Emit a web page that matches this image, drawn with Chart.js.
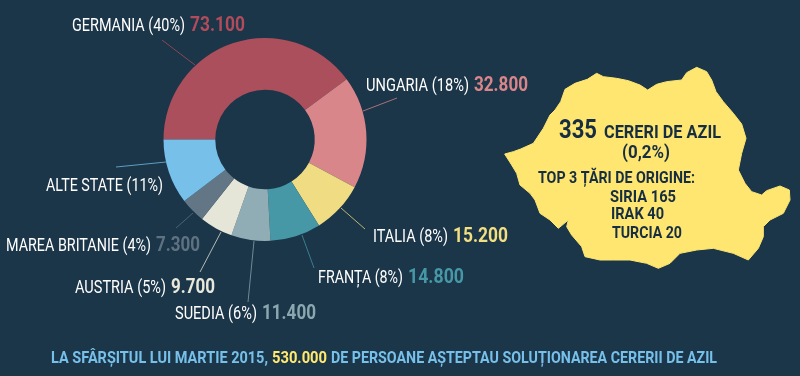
<!DOCTYPE html>
<html><head><meta charset="utf-8">
<style>html,body{margin:0;padding:0;background:#1b3549}#w{position:relative;width:800px;height:376px}</style>
<script src="https://cdn.jsdelivr.net/npm/chart.js@4"></script>
</head><body><div id="w"><canvas id="c" width="800" height="376"></canvas></div>
<script>
const categories=["GERMANIA","UNGARIA","ITALIA","FRANȚA","SUEDIA","AUSTRIA","MAREA BRITANIE","ALTE STATE"];
const values=[73100,32800,15200,14800,11400,9700,7300,19000];
const valueLabels=["73.100","32.800","15.200","14.800","11.400","9.700","7.300",""];
const percents=["40%","18%","8%","8%","6%","5%","4%","11%"];
const colors=["#aa4f5b","#d8868a","#efdc83","#4798a6","#90adb6","#e5e5d8","#637686","#77c0ea"];
const valueColors=["#b04c5b","#d8868a","#f2df82","#4798a6","#8ba8b0","#e9e9db","#5f7282","#77c0ea"];
const BG="#1b3549";
const labelPos=[[72,31,113,190,55],[366,91,103,474,54],[373,242,75,453,55],[318,283,85,408,56],[175,319,82,262,54],[75,293,91,171,44],[6,251,145,156,44],[46,191,117,0,0]];
const leaders=[[162,40,195,65],[397,98,363,111],[341,208,365,229],[302,235,314,268],[254,241,248,302],[221,232,200,272],[193,213,176,228],[166,162,116,167]];
const mapOutline=[[14,312],[40,305],[62,297],[100,280],[112,262],[130,235],[150,195],[165,180],[182,155],[195,118],[225,100],[262,88],[290,70],[310,80],[350,85],[385,92],[420,105],[443,120],[470,103],[500,95],[545,90],[560,68],[590,52],[620,65],[635,90],[648,125],[670,155],[700,190],[725,222],[738,265],[725,310],[715,360],[735,400],[755,425],[785,435],[800,422],[840,408],[868,420],[870,450],[850,490],[810,510],[790,530],[790,560],[775,595],[745,630],[700,610],[640,595],[590,600],[540,610],[510,640],[475,655],[440,640],[390,630],[340,630],[300,630],[255,620],[245,590],[215,555],[200,530],[205,510],[175,535],[150,510],[120,490],[105,450],[90,430],[60,405],[50,370],[35,345]];
const mapText=[["335",559,138,38,25,"700"],["CERERI DE AZIL",604,138,117,18,"700"],["(0,2%)",622,158,48,19,"700"],["TOP 3 ȚĂRI DE ORIGINE:",538,183,157,16.5,"700"],["SIRIA 165",610,202,66,16.5,"700"],["IRAK 40",611,219,53,16.5,"700"],["TURCIA 20",612,238,70,16.5,"700"]];
const footer=[["LA SFÂRȘITUL LUI MARTIE 2015,",51,217,"#77c0ea"],["530.000",272,55,"#ffe96f"],["DE PERSOANE AȘTEPTAU SOLUȚIONAREA CERERII DE AZIL",331,386,"#77c0ea"]];
function fit(ctx,t,x,y,w,font,col){ctx.save();ctx.font=font;ctx.fillStyle=col;ctx.textBaseline="alphabetic";ctx.translate(x,y);ctx.scale(w/ctx.measureText(t).width,1);ctx.fillText(t,0,0);ctx.restore();}
const F='Roboto, sans-serif';
const deco={id:"deco",
 beforeDatasetsDraw(ch){const x=ch.ctx;x.save();
  leaders.forEach((l,i)=>{x.globalAlpha=0.75;x.strokeStyle=valueColors[i];x.lineWidth=1;x.beginPath();x.moveTo(l[0],l[1]);x.lineTo(l[2],l[3]);x.stroke();});
  x.globalAlpha=1;x.fillStyle="#fee671";x.strokeStyle="#fee671";x.lineJoin="round";x.beginPath();mapOutline.forEach((p,i)=>{const a=500+p[0]/3,b=50+p[1]/3;i?x.lineTo(a,b):x.moveTo(a,b);});x.closePath();x.fill();x.stroke();x.restore();},
 afterDraw(ch){const x=ch.ctx;
  categories.forEach((c,i)=>{const p=labelPos[i];
   fit(x,c+" ("+percents[i]+")",p[0],p[1],p[2],"400 17.5px "+F,"#ffffff");
   if(valueLabels[i])fit(x,valueLabels[i],p[3],p[1],p[4],"700 19.5px "+F,valueColors[i]);});
  mapText.forEach(m=>fit(x,m[0],m[1],m[2],m[3],m[5]+" "+m[4]+"px "+F,"#172e42"));
  footer.forEach(f=>fit(x,f[0],f[1],363,f[2],"700 17px "+F,f[3]));
 }};
new Chart(document.getElementById("c"),{type:"doughnut",
 data:{labels:categories,datasets:[{data:values,backgroundColor:colors,borderWidth:0}]},
 options:{responsive:false,animation:false,rotation:-90,cutout:"49%",
  layout:{padding:{left:163,right:433,top:38,bottom:135}},
  plugins:{legend:{display:false},tooltip:{enabled:false}}},
 plugins:[deco]});
</script></body></html>
